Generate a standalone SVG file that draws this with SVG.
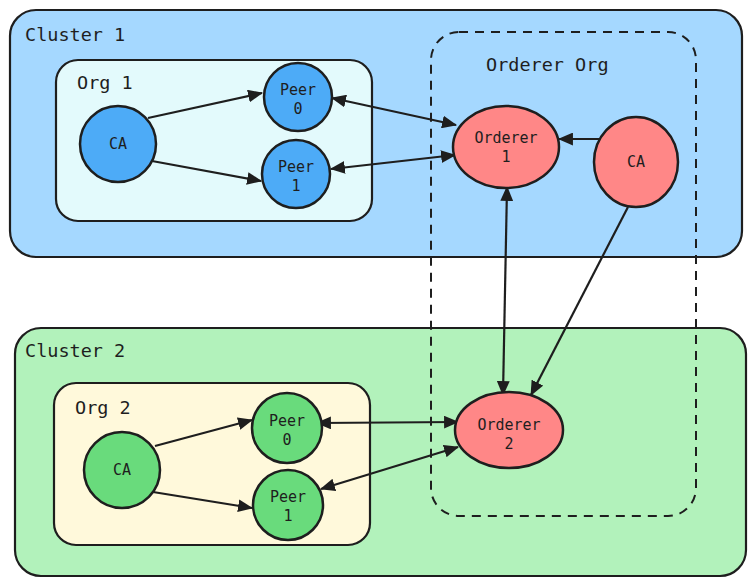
<svg xmlns="http://www.w3.org/2000/svg" width="756" height="585" viewBox="0 0 756 585">
<defs>
<style>
.cl{stroke:#1e1e1e;stroke-width:2.2}
.nd{stroke:#1e1e1e;stroke-width:2.5}
.t{font-family:"DejaVu Sans Mono","Liberation Mono",monospace;fill:#1e1e1e}
.big{font-size:18.5px}
.sm{font-size:15px;text-anchor:middle}
.e{fill:none;stroke:#1e1e1e;stroke-width:2.2}
.blue{fill:#4dabf7}
.green{fill:#69db7c}
.red{fill:#ff8787}
</style>
<marker id="ah" viewBox="0 0 14 12" refX="13" refY="6" markerWidth="15" markerHeight="13" markerUnits="userSpaceOnUse" orient="auto-start-reverse">
<path d="M0,0 L14,6 L0,12 Z" fill="#1e1e1e"/>
</marker>
</defs>
<rect width="756" height="585" fill="#ffffff"/>
<g id="cluster1">
<rect class="cl" x="10" y="10" width="732" height="247" rx="26" fill="#a5d8ff"/>
<text class="t big" x="25" y="41">Cluster 1</text>
</g>
<g id="cluster2">
<rect class="cl" x="15" y="328" width="731" height="248" rx="26" fill="#b2f2bb"/>
<text class="t big" x="25" y="357">Cluster 2</text>
</g>
<g id="org1">
<rect class="cl" x="56" y="60" width="316" height="161" rx="22" fill="#e3fafc"/>
<text class="t big" x="77" y="89">Org 1</text>
</g>
<g id="org2">
<rect class="cl" x="54" y="383" width="316" height="162" rx="22" fill="#fff9db"/>
<text class="t big" x="75" y="414">Org 2</text>
</g>
<g id="orderer-org">
<rect x="431" y="32" width="265" height="484" rx="28" fill="none" stroke="#1e1e1e" stroke-width="2" stroke-dasharray="9 7"/>
<text class="t big" x="486" y="71">Orderer Org</text>
</g>
<g id="connectors">
<line class="e" x1="148" y1="118" x2="262" y2="93" marker-end="url(#ah)"/>
<line class="e" x1="152" y1="161" x2="261" y2="181" marker-end="url(#ah)"/>
<line class="e" x1="332" y1="98" x2="456" y2="125" marker-start="url(#ah)" marker-end="url(#ah)"/>
<line class="e" x1="331" y1="169" x2="455" y2="155" marker-start="url(#ah)" marker-end="url(#ah)"/>
<line class="e" x1="600" y1="139" x2="559" y2="139" marker-end="url(#ah)"/>
<line class="e" x1="507" y1="187" x2="503" y2="395" stroke-width="2.8" marker-start="url(#ah)" marker-end="url(#ah)"/>
<line class="e" x1="628" y1="207" x2="531" y2="395" marker-end="url(#ah)"/>
<line class="e" x1="155" y1="446" x2="252" y2="420" stroke-width="2.6" marker-end="url(#ah)"/>
<line class="e" x1="153" y1="492" x2="252" y2="508" stroke-width="2.6" marker-end="url(#ah)"/>
<line class="e" x1="317" y1="423" x2="458" y2="422" marker-start="url(#ah)" marker-end="url(#ah)"/>
<line class="e" x1="321" y1="489" x2="458" y2="447" marker-start="url(#ah)" marker-end="url(#ah)"/>
</g>
<g id="ca1">
<circle class="nd blue" cx="118" cy="144" r="38"/>
<text class="t sm" x="118" y="149">CA</text>
</g>
<g id="peer0-1">
<circle class="nd blue" cx="298" cy="97" r="34"/>
<text class="t sm" x="298" y="95">Peer</text>
<text class="t sm" x="298" y="114">0</text>
</g>
<g id="peer1-1">
<circle class="nd blue" cx="296" cy="174" r="34"/>
<text class="t sm" x="296" y="172">Peer</text>
<text class="t sm" x="296" y="191">1</text>
</g>
<g id="orderer1">
<ellipse class="nd red" cx="506" cy="147" rx="53" ry="41"/>
<text class="t sm" x="506" y="143">Orderer</text>
<text class="t sm" x="506" y="162">1</text>
</g>
<g id="ca-orderer">
<ellipse class="nd red" cx="636" cy="162" rx="42" ry="45"/>
<text class="t sm" x="636" y="167">CA</text>
</g>
<g id="orderer2">
<ellipse class="nd red" cx="509" cy="430" rx="54" ry="38"/>
<text class="t sm" x="509" y="430">Orderer</text>
<text class="t sm" x="509" y="449">2</text>
</g>
<g id="ca2">
<circle class="nd green" cx="122" cy="470" r="38"/>
<text class="t sm" x="122" y="475">CA</text>
</g>
<g id="peer0-2">
<circle class="nd green" cx="287" cy="428" r="35"/>
<text class="t sm" x="287" y="426">Peer</text>
<text class="t sm" x="287" y="445">0</text>
</g>
<g id="peer1-2">
<circle class="nd green" cx="288" cy="505" r="35"/>
<text class="t sm" x="288" y="502">Peer</text>
<text class="t sm" x="288" y="521">1</text>
</g>
</svg>
